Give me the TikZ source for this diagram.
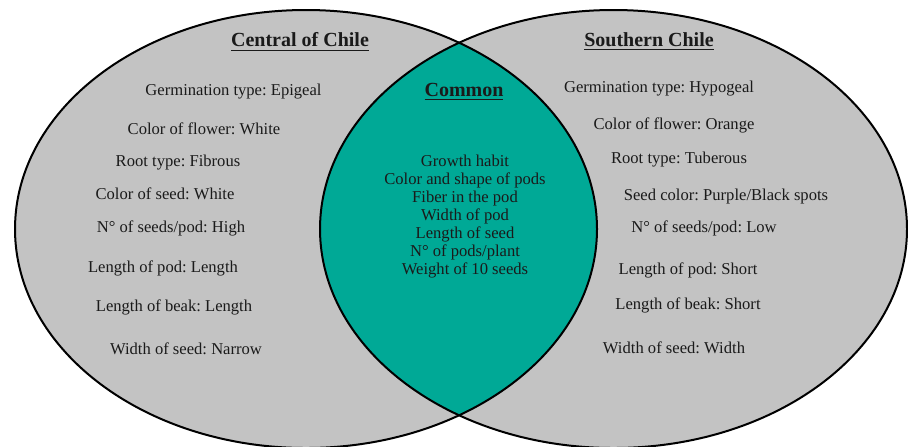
\documentclass[tikz,border=0pt]{standalone}
\usepackage{fontspec}
\setmainfont{Liberation Serif}
\usepackage{xcolor}
\definecolor{vennGray}{HTML}{C3C3C3}
\definecolor{vennTeal}{HTML}{00A996}
\definecolor{vennInk}{HTML}{1A1A1A}
\usetikzlibrary{positioning}
\newcommand{\headmark}[1]{\underline{\textbf{#1}}}
\frenchspacing

\begin{document}
\begin{tikzpicture}[
  x=0.5pt, y=-0.5pt,
  every node/.style={font=\fontsize{8.3}{9}\selectfont, text=vennInk, align=center, inner sep=0pt, yshift=-1pt},
  head/.style={font=\fontsize{10}{11}\selectfont},
  lobe/.style={draw=black, line width=1pt}
]
  \useasboundingbox (0,0) rectangle (908,446);
  % the two regions and their overlap
  \fill[vennGray] (306,229) ellipse [x radius=291, y radius=219];
  \fill[vennGray] (613.5,229) ellipse [x radius=293.5, y radius=219];
  \begin{scope}
    \clip (306,229) ellipse [x radius=291, y radius=219];
    \fill[vennTeal] (613.5,229) ellipse [x radius=293.5, y radius=219];
  \end{scope}
  \draw[lobe] (306,229) ellipse [x radius=291, y radius=219];
  \draw[lobe] (613.5,229) ellipse [x radius=293.5, y radius=219];

  % Central of Chile
  \node[head] (centHead) at (300,40) {\headmark{Central of Chile}};
  \node (germL) at (233.5,90) {Germination type: Epigeal};
  \node (flowL) at (204,127) {Color of flower: White};
  \node (rootL) at (178,161) {Root type: Fibrous};
  \node (seedL) at (165,192) {Color of seed: White};
  \node (numL) at (171,226) {N° of seeds/pod: High};
  \node (podL) at (163,266) {Length of pod: Length};
  \node (beakL) at (174,305) {Length of beak: Length};
  \node (widL) at (186,347) {Width of seed: Narrow};

  % Southern Chile
  \node[head] (southHead) at (649,40) {\headmark{Southern Chile}};
  \node (germR) at (659,87) {Germination type: Hypogeal};
  \node (flowR) at (674,123) {Color of flower: Orange};
  \node (rootR) at (679,158) {Root type: Tuberous};
  \node (seedR) at (726,194) {Seed color: Purple/Black spots};
  \node (numR) at (704,226) {N° of seeds/pod: Low};
  \node (podR) at (688,268) {Length of pod: Short};
  \node (beakR) at (688,303) {Length of beak: Short};
  \node (widR) at (674,346) {Width of seed: Width};

  % Common
  \node[head] (comHead) at (464,90) {\headmark{Common}};
  \node (comList) at (465,215) {
    Growth habit\\
    Color and shape of pods\\
    Fiber in the pod\\
    Width of pod\\
    Length of seed\\
    N° of pods/plant\\
    Weight of 10 seeds
  };
\end{tikzpicture}
\end{document}
